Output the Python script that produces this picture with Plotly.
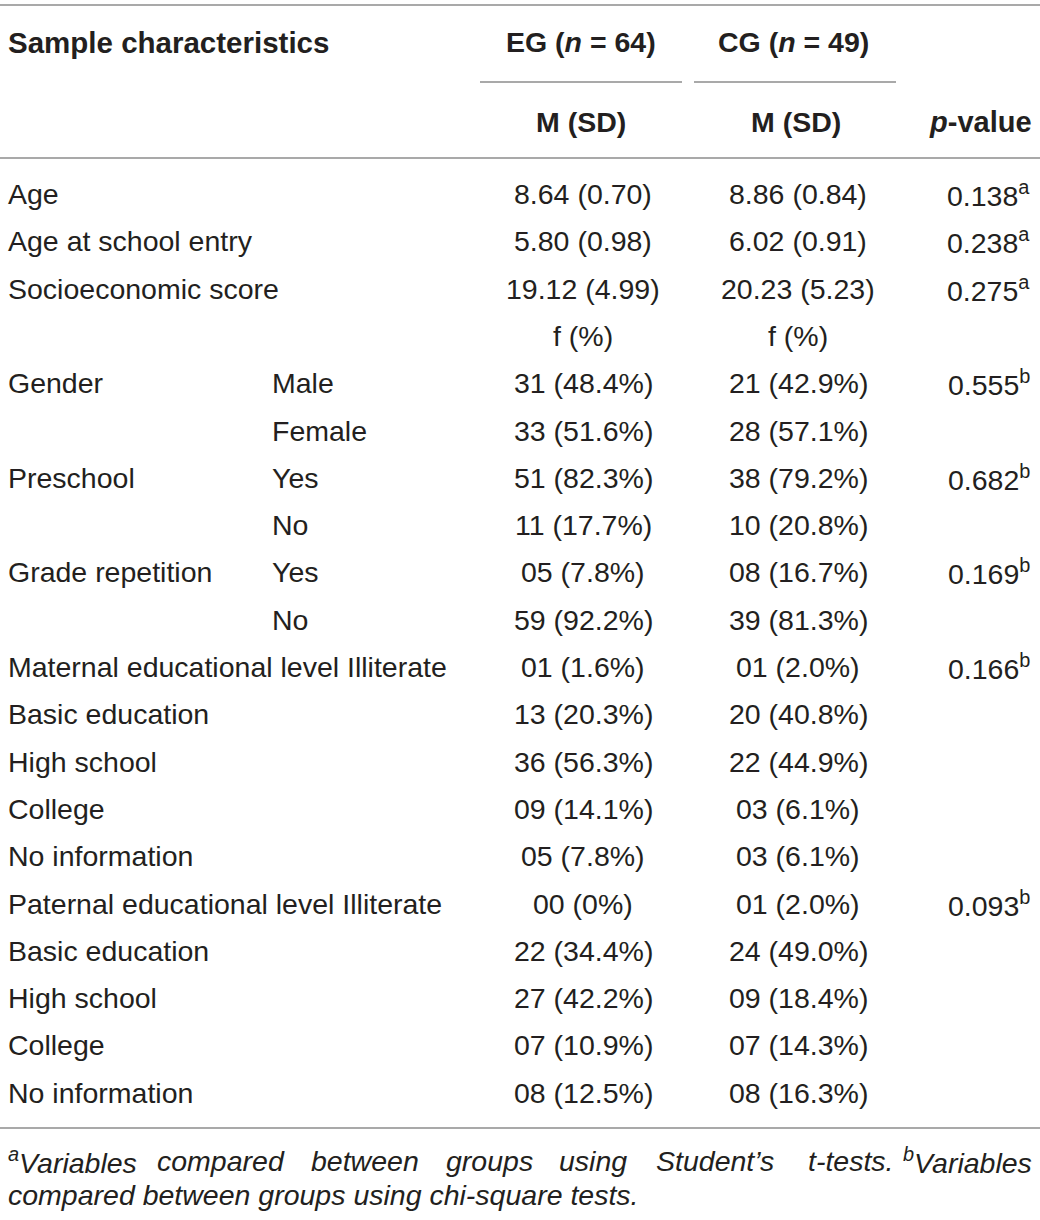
import plotly.graph_objects as go

# table content
labels = ["Age", "Age at school entry", "Socioeconomic score", "",
          "Gender", "", "Preschool", "", "Grade repetition", "",
          "Maternal educational level Illiterate", "Basic education", "High school",
          "College", "No information",
          "Paternal educational level Illiterate", "Basic education", "High school",
          "College", "No information"]
sublabels = ["", "", "", "", "Male", "Female", "Yes", "No", "Yes", "No",
             "", "", "", "", "", "", "", "", "", ""]
eg_values = ["8.64 (0.70)", "5.80 (0.98)", "19.12 (4.99)", "f (%)",
             "31 (48.4%)", "33 (51.6%)", "51 (82.3%)", "11 (17.7%)",
             "05 (7.8%)", "59 (92.2%)",
             "01 (1.6%)", "13 (20.3%)", "36 (56.3%)", "09 (14.1%)", "05 (7.8%)",
             "00 (0%)", "22 (34.4%)", "27 (42.2%)", "07 (10.9%)", "08 (12.5%)"]
cg_values = ["8.86 (0.84)", "6.02 (0.91)", "20.23 (5.23)", "f (%)",
             "21 (42.9%)", "28 (57.1%)", "38 (79.2%)", "10 (20.8%)",
             "08 (16.7%)", "39 (81.3%)",
             "01 (2.0%)", "20 (40.8%)", "22 (44.9%)", "03 (6.1%)", "03 (6.1%)",
             "01 (2.0%)", "24 (49.0%)", "09 (18.4%)", "07 (14.3%)", "08 (16.3%)"]
p_values = ["0.138", "0.238", "0.275", "", "0.555", "", "0.682", "", "0.169", "",
            "0.166", "", "", "", "", "0.093", "", "", "", ""]
p_marks = ["a", "a", "a", "", "b", "", "b", "", "b", "",
           "b", "", "", "", "", "b", "", "", "", ""]

header_groups = ["EG (<i>n</i> = 64)", "CG (<i>n</i> = 49)"]
header_sub = ["M (SD)", "M (SD)"]

footnote_words = ["<sup>a</sup>Variables", "compared", "between", "groups", "using",
                  "Student’s", "t-tests.", "<sup>b</sup>Variables"]
footnote_line2 = "compared between groups using chi-square tests."

W, H = 1040, 1220
FONT = "Liberation Sans, Arial, Helvetica, sans-serif"
TXT = "#231f20"
RULE = "#8c8c8c"
FS = 28.5

row_top, row_h = 194, 47.3
col_label, col_sub = 6, 270
col_eg, col_cg, col_p = 583, 798, 1032
head_eg, head_cg = 581, 793

fig = go.Figure()
fig.add_trace(go.Scatter(x=[0, W], y=[0, H], mode="markers",
                         marker=dict(opacity=0), hoverinfo="skip", showlegend=False))

ann = []


def txt(x, y, s, anchor="left", size=FS):
    ann.append(dict(x=x, y=y, xref="x", yref="y", text=s, showarrow=False,
                    xanchor=anchor, yanchor="middle",
                    font=dict(family=FONT, size=size, color=TXT)))


# header
txt(col_label, 42, "<b>Sample characteristics</b>", size=29.5)
txt(head_eg, 42, "<b>" + header_groups[0] + "</b>", "center")
txt(head_cg, 42, "<b>" + header_groups[1] + "</b>", "center")
txt(head_eg, 122, "<b>" + header_sub[0] + "</b>", "center")
txt(head_cg + 3, 122, "<b>" + header_sub[1] + "</b>", "center")
txt(col_p + 2, 122, "<b><i>p</i>-value</b>", "right", size=29)

# body rows
for i in range(len(labels)):
    y = row_top + i * row_h
    if labels[i]:
        txt(col_label, y, labels[i])
    if sublabels[i]:
        txt(col_sub, y, sublabels[i])
    txt(col_eg, y, eg_values[i], "center")
    txt(col_cg, y, cg_values[i], "center")
    if p_values[i]:
        txt(col_p, y, p_values[i] + "<sup>" + p_marks[i] + "</sup>", "right")

# footnote, first line spread edge to edge
fn_x = [6, 221, 365, 489, 593, 715, 851, 1034]
for j, w in enumerate(footnote_words):
    a = "left" if j == 0 else ("right" if j == len(footnote_words) - 1 else "center")
    txt(fn_x[j], 1161, "<i>" + w + "</i>", a)
txt(col_label, 1195, "<i>" + footnote_line2 + "</i>")

rules = [(0, W, 5), (0, W, 158), (0, W, 1128), (480, 682, 82), (694, 896, 82)]
shapes = [dict(type="line", xref="x", yref="y", x0=a, x1=b, y0=y, y1=y,
               line=dict(color=RULE, width=1.5)) for a, b, y in rules]

fig.update_layout(
    width=W, height=H,
    margin=dict(l=0, r=0, t=0, b=0),
    paper_bgcolor="white", plot_bgcolor="white",
    xaxis=dict(range=[0, W], visible=False, fixedrange=True),
    yaxis=dict(range=[H, 0], visible=False, fixedrange=True),
    annotations=ann, shapes=shapes,
)

fig.write_html("out.html", config={"displayModeBar": False},
               post_script="document.body.style.margin='0';")
